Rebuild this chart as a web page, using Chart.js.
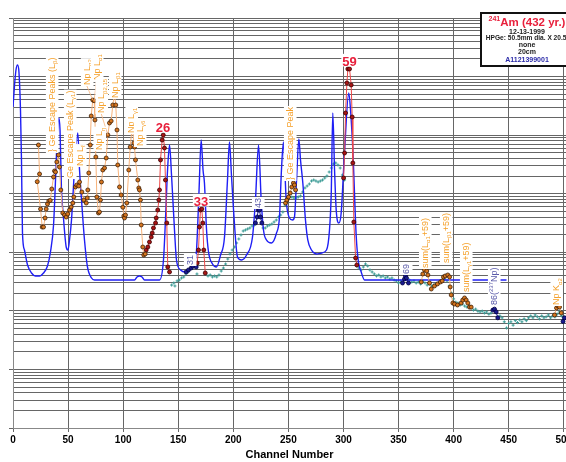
<!DOCTYPE html>
<html>
<head>
<meta charset="utf-8">
<script src="https://cdn.jsdelivr.net/npm/chart.js@4/dist/chart.umd.min.js"></script>
<style>
html, body { margin: 0; padding: 0; background: #fff; }
canvas { display: block; }
</style>
</head>
<body>
<canvas id="spectrum" width="566" height="462"></canvas>
<script>
// Am-241 spectrum, counts per channel on a log axis

// fitted response (blue line)
var fitCh = [0,1.4,2.7,4.1,5.4,6.8,7.7,8.6,10.4,13.2,16.8,20.4,24.1,27.7,31.3,34.0,36.8,38.6,40.4,41.6,
  42.7,44.0,45.4,48.3,49.9,51.3,53.1,55.8,58.8,60.4,62.2,64.9,67.6,71.3,74.0,110.3,112.6,114.8,117.1,119.4,
  133.0,136.6,138.4,140.3,142.1,143.9,146.6,148.4,152.1,156.6,160.2,163.9,166.6,168.9,170.8,172.5,173.8,175.7,177.5,181.1,
  184.7,188.4,192.0,194.7,196.5,198.3,200.2,203.8,207.4,212.0,217.4,220.1,222.9,225.3,227.4,230.1,234.7,239.2,241.9,243.7,
  245.5,248.0,251.0,253.7,255.5,257.4,259.5,261.0,263.1,265.5,267.6,271.0,275.5,280.1,284.6,287.3,288.9,290.3,291.9,293.4,
  295.8,297.9,300.9,304.8,306.4,308.5,311.6,313.6,316.1,319.1,448.0];
var fitCounts = [302500,718000,1295000,1578000,1198000,268700,37660,2134,1094,607,443,394,394,443,583,1012,2924,17150,122400,196200,
  122400,11580,4872,1231,1094,1622,3558,25420,108800,25420,7812,1622,561,364,336,336,379,394,379,336,
  336,738,3558,25420,67880,20880,2402,738,499,461,499,607,1094,11580,82630,25420,15250,2402,1012,631,
  561,899,1824,17150,76390,20880,5272,831,738,899,1824,7812,67880,7812,2402,1622,1442,2134,4002,25420,
  76390,7812,3848,3558,4002,17150,85940,37660,15250,3558,1622,1094,935,972,1094,2402,10290,238800,25420,5272,
  3164,4688,49560,524500,268700,55740,1824,683,461,336,336];

// measured spectrum (teal dots)
var measCh = [144,146,147,149,151,153,155,157,159,167,
  175,177,179,181,183,185,187,189,191,193,
  195,197,199,201,203,205,207,209,211,213,
  215,217,219,227,229,231,233,235,237,239,
  241,243,245,247,249,251,253,255,257,259,
  261,263,265,267,269,271,273,275,277,279,
  281,283,285,287,289,291,293,295,297,299,
  301,312,314,316,318,320,322,324,326,328,
  330,332,334,336,338,340,342,344,346,348,
  350,352,358,360,362,364,366,368,370,372,
  374,376,378,380,382,384,386,388,390,392,
  394,396,398,400,402,404,406,408,410,412,
  414,416,418,420,422,424,426,428,430,432,
  434,442,444,446,448,450,452,454,456,458,
  460,462,464,466,468,470,472,474,476,478,
  480,482,484,486,488,490,492,494,496,498,
  500];
var measCounts = [276,299,266,324,336,364,379,426,461,426,
  443,394,410,379,394,379,410,479,539,631,
  768,935,1094,1231,1442,1687,1975,2310,2402,2500,
  2600,2812,2924,2600,2600,2812,2924,3042,3291,3558,
  4002,4330,4872,6410,8450,8790,8790,8450,8450,8790,
  9140,10700,12530,13550,14660,16490,17150,16490,15860,16490,
  17150,18550,20070,23490,27500,32180,33470,30940,27500,20880,
  17150,583,539,499,561,631,583,499,461,426,
  394,410,379,394,364,379,350,364,336,324,
  299,324,350,336,311,324,299,311,288,324,
  299,276,288,266,276,288,299,324,336,350,
  324,266,202,160,141,136,126,131,121,116,
  121,112,103,107,99,96,99,92,96,88,
  92,82,76,65,51,61,65,57,68,63,
  70,65,73,68,76,82,76,85,79,73,
  82,76,79,85,76,82,79,88,96,82,
  76];

// Np L x-rays and their Ge escape peaks (orange)
var lxCh = [23.1,24.1,22.0,25.0,26.5,27.7,29.1,30.1,31.3,32.5,
  33.8,35.2,36.8,37.7,38.6,39.8,41.3,42.2,43.4,45.2,
  46.8,48.3,49.7,51.3,52.8,54.3,55.2,56.7,57.9,59.7,
  60.4,62.5,64.3,66.5,67.4,67.9,68.8,70.1,71.0,72.4,
  73.7,74.4,75.2,76.1,77.6,78.5,79.4,80.3,81.5,83.1,
  84.6,86.1,87.6,89.1,90.6,92.1,93.3,94.4,95.1,96.7,
  98.2,99.7,100.6,101.2,102.1,103.3,105.1,106.4,107.8,108.8,
  109.7,110.3,111.2,113.3,114.2,114.8,115.7,116.4,117.8,118.7,
  120.0];
var lxCounts = [67880,21710,16050,5480,2700,2700,3848,5480,6670,7510,
  7660,12040,19300,24440,23490,34810,45840,28600,11580,4688,
  4330,4002,4508,5272,5930,6940,8790,13030,14090,13550,
  15860,10700,7812,6940,8450,11580,22580,67880,212300,397600,
  387000,181400,42370,8790,4688,4872,7812,15860,25420,27500,
  40740,100600,161300,174400,326900,503600,326900,122400,30940,13030,
  9510,5870,4160,3848,4330,6940,25420,62720,118900,122400,
  73450,62720,37660,17150,12530,11580,7812,2924,1231,899,
  935];
var geCh = [247.4,248.6,250.1,251.6,253.1,254.6,255.5,256.5];
var geCounts = [6940,7812,8790,10290,13030,15250,14090,11580];
var sumCh = [370.6,372.0,373.6,375.6,376.6,378.1,379.7,382.6,385.3,388.0,
  389.6,390.8,392.4,394.7,396.3,396.9,397.8,399.3,400.8,403.5,
  406.8,408.3,409.9,411.4,412.9,414.4,415.9];
var sumCounts = [311,426,499,479,410,299,236,266,288,311,
  324,379,394,410,379,256,187,136,131,126,
  136,153,166,153,136,116,116];
var kCh = [491.6,493.4,494.8,496.1,497.7];
var kCounts = [85,112,121,116,92];

// gamma lines (red)
var p26Ch = [120.9,122.4,123.9,125.5,126.4,127.5,129.4,130.0,131.4,132.4,133.0,133.9,135.4,136.4,137.5,138.4,139.6,140.5,142.1];
var p26Counts = [1094,1231,1499,1824,2134,2600,3164,3848,5272,7812,11580,37660,82630,100600,60310,17150,3164,561,461];
var p33Ch = [167.2,168.4,169.3,170.2,171.4,172.3,173.2,174.5];
var p33Counts = [656,1094,2704,5272,5480,3164,1094,443];
var p59Ch = [300.1,301.0,301.9,303.1,304.0,305.5,307.0,307.9,308.5,309.4,311.0,312.1];
var p59Counts = [18550,49560,238800,776000,1350000,1350000,718000,204000,33470,3291,799,607];

// weak lines (dark blue)
var p31Ch = [157.2,159.3,161.8,163.2,164.8,166.3];
var p31Counts = [461,499,539,583,631,561];
var p43Ch = [220.1,221.7,222.6,223.8,224.7,225.9];
var p43Counts = [3164,4002,5272,5272,4002,3164];
var p69Ch = [353.6,355.4,356.3,357.2,359.0];
var p69Counts = [299,350,394,364,299];
var p86Ch = [435.6,437.1,438.6,440.1];
var p86Counts = [103,107,96,76];
var pEndCh = [499.3,500.6];
var pEndCounts = [66,76];

var xTicks = [0,50,100,150,200,250,300,350,400,450,500];

// peak labels: text, channel, counts, colour, optional leader target
var notes = [
  ['} Ge Escape Peaks (L_{β})', 34.9, 51560, 'orange'],
  ['Ge Escape Peak (L_{γ1})', 51.3, 18550, 'orange'],
  ['Np L_{ℓ}', 60.4, 29720, 'orange'],
  ['Np L_{α2}', 66.7, 718000, 'orange', 72.4, 397600],
  ['Np L_{α1}', 75.8, 874300, 'orange', 73.7, 387000],
  ['Np L_{β2,15}', 79.9, 238800, 'orange', 86.1, 100600],
  ['Np L_{η}', 78.1, 55740, 'orange'],
  ['Np L_{β1}', 92.1, 430600, 'orange'],
  ['Np L_{γ1}', 107.1, 108800, 'orange'],
  ['Np L_{γ6}', 114.8, 65240, 'orange'],
  ['} Ge Escape Peak', 251.0, 17150, 'orange'],
  ['sum(L_{α1}+59)', 373.6, 539, 'orange'],
  ['sum(L_{β1}+59)', 392.6, 656, 'orange'],
  ['sum(L_{γ1}+59)', 410.8, 210, 'orange'],
  ['Np K_{α2}', 492.9, 126, 'orange'],
  ['31', 160.2, 607, 'blue'],
  ['43', 222.0, 5700, 'blue'],
  ['69', 356.3, 426, 'blue'],
  ['86(^{237}Np)', 436.2, 126, 'blue'],
  ['26', 136.2, 137700, 'red'],
  ['33', 170.7, 7510, 'red'],
  ['59', 305.5, 1845000, 'red']
];

var FONT = '"Liberation Sans", Arial, sans-serif';
var noteColor = { orange: '#f5a02a', blue: '#5858a8', red: '#e8203c' };

function pts(xs, ys) {
  return xs.map(function (x, i) { return { x: x, y: ys[i] }; });
}

function yTickList() {
  var t = [];
  for (var e = 0; e < 7; e++) {
    for (var m = 1; m < 10; m++) t.push(m * Math.pow(10, e));
  }
  t.push(1e7);
  return t;
}

function isDecade(v) {
  var l = Math.log10(v);
  return Math.abs(l - Math.round(l)) < 1e-9;
}

function richParts(s) {
  var out = [], re = /([_^])\{([^}]*)\}/g, last = 0, m;
  while ((m = re.exec(s))) {
    if (m.index > last) out.push({ t: s.slice(last, m.index), k: '' });
    out.push({ t: m[2], k: m[1] });
    last = re.lastIndex;
  }
  if (last < s.length) out.push({ t: s.slice(last), k: '' });
  return out;
}

function drawRich(ctx, text, x, y, o) {
  var parts = richParts(text);
  var fs = o.size, ss = Math.round(fs * 0.72);
  var font = function (sz) { return (o.bold ? 'bold ' : '') + sz + 'px ' + FONT; };
  var w = 0;
  parts.forEach(function (p) {
    ctx.font = font(p.k ? ss : fs);
    p.w = ctx.measureText(p.t).width;
    w += p.w;
  });
  ctx.save();
  ctx.translate(x, y);
  if (o.rotate) ctx.rotate(-Math.PI / 2);
  var cx = o.center ? -w / 2 : 0;
  if (o.bg) {
    ctx.fillStyle = '#fff';
    ctx.fillRect(cx - 1, -fs * o.bg[0], w + 2, fs * (o.bg[0] + o.bg[1]));
  }
  ctx.fillStyle = o.color;
  ctx.textBaseline = 'alphabetic';
  var base = fs * 0.36;
  parts.forEach(function (p) {
    ctx.font = font(p.k ? ss : fs);
    var dy = p.k === '_' ? fs * 0.28 : (p.k === '^' ? -fs * 0.4 : 0);
    ctx.fillText(p.t, cx, base + dy);
    cx += p.w;
  });
  ctx.restore();
}

var notesPlugin = {
  id: 'notes',
  afterDatasetsDraw: function (chart) {
    var ctx = chart.ctx, xs = chart.scales.x, ys = chart.scales.y;
    ctx.save();
    ctx.strokeStyle = '#f7b27a';
    ctx.lineWidth = 0.8;
    notes.forEach(function (n) {
      if (n.length > 4) {
        ctx.beginPath();
        ctx.moveTo(xs.getPixelForValue(n[1]), ys.getPixelForValue(n[2]));
        ctx.lineTo(xs.getPixelForValue(n[4]), ys.getPixelForValue(n[5]));
        ctx.stroke();
      }
    });
    notes.forEach(function (n) {
      var px = xs.getPixelForValue(n[1]), py = ys.getPixelForValue(n[2]);
      if (n[3] === 'red') {
        drawRich(ctx, n[0], px, py, { size: 13, bold: true, color: noteColor.red, center: true, bg: [0.55, 0.42] });
      } else {
        drawRich(ctx, n[0], px, py, { size: 9, color: noteColor[n[3]], rotate: true, bg: [0.62, 0.78] });
      }
    });
    ctx.restore();
  }
};

var boxPlugin = {
  id: 'sourceBox',
  afterDraw: function (chart) {
    var ctx = chart.ctx, cx = 527;
    ctx.save();
    ctx.fillStyle = '#fff';
    ctx.fillRect(480, 12, 90, 54);
    ctx.lineWidth = 2;
    ctx.strokeStyle = '#111';
    ctx.strokeRect(481, 13, 92, 53);
    ctx.textBaseline = 'alphabetic';
    ctx.font = 'bold 7px ' + FONT;
    var wSup = ctx.measureText('241').width;
    ctx.font = 'bold 11.5px ' + FONT;
    var wMain = ctx.measureText('Am (432 yr.)').width;
    var sx = cx - (wSup + wMain) / 2;
    ctx.fillStyle = '#e8203c';
    ctx.font = 'bold 7px ' + FONT;
    ctx.fillText('241', sx, 21);
    ctx.font = 'bold 11.5px ' + FONT;
    ctx.fillText('Am (432 yr.)', sx + wSup, 26);
    ctx.textAlign = 'center';
    ctx.fillStyle = '#222';
    ctx.font = 'bold 7px ' + FONT;
    ctx.fillText('12-13-1999', cx, 34);
    ctx.font = 'bold 6.6px ' + FONT;
    ctx.fillText('HPGe: 50.5mm dia. X 20.5mm', cx + 5, 40);
    ctx.font = 'bold 7px ' + FONT;
    ctx.fillText('none', cx, 47);
    ctx.fillText('20cm', cx, 54);
    ctx.fillStyle = '#2a2aa8';
    ctx.fillText('A1121399001', cx, 62);
    ctx.restore();
  }
};

function lineSet(xs, ys, line, fill, edge) {
  return {
    data: pts(xs, ys),
    borderColor: line,
    borderWidth: 1,
    pointRadius: 2,
    pointHoverRadius: 0,
    pointBackgroundColor: fill,
    pointBorderColor: edge,
    pointBorderWidth: 0.8,
    tension: 0,
    order: 1
  };
}

var orange = ['#f7b27a', '#d7761f', '#3d1e05'];
var red = ['#ee4848', '#a81515', '#3a0000'];
var navy = ['#2020a8', '#1a1a90', '#000040'];

var datasets = [
  lineSet(lxCh, lxCounts, orange[0], orange[1], orange[2]),
  lineSet(geCh, geCounts, orange[0], orange[1], orange[2]),
  lineSet(sumCh, sumCounts, orange[0], orange[1], orange[2]),
  lineSet(kCh, kCounts, orange[0], orange[1], orange[2]),
  lineSet(p26Ch, p26Counts, red[0], red[1], red[2]),
  lineSet(p33Ch, p33Counts, red[0], red[1], red[2]),
  lineSet(p59Ch, p59Counts, red[0], red[1], red[2]),
  lineSet(p31Ch, p31Counts, navy[0], navy[1], navy[2]),
  lineSet(p43Ch, p43Counts, navy[0], navy[1], navy[2]),
  lineSet(p69Ch, p69Counts, navy[0], navy[1], navy[2]),
  lineSet(p86Ch, p86Counts, navy[0], navy[1], navy[2]),
  lineSet(pEndCh, pEndCounts, navy[0], navy[1], navy[2]),
  {
    data: pts(fitCh, fitCounts),
    borderColor: '#1f1ff5',
    borderWidth: 1.4,
    pointRadius: 0,
    pointHoverRadius: 0,
    cubicInterpolationMode: 'monotone',
    order: 2
  },
  {
    data: pts(measCh, measCounts),
    showLine: false,
    pointStyle: 'cross',
    pointRadius: 1.5,
    pointHoverRadius: 0,
    pointBorderWidth: 1,
    pointBorderColor: '#3c9c96',
    order: 3
  }
];

var ctx = document.getElementById('spectrum').getContext('2d');
var chart = new Chart(ctx, {
  type: 'line',
  data: { datasets: datasets },
  options: {
    responsive: false,
    animation: false,
    layout: { autoPadding: false, padding: { top: 18, left: 0, right: 0, bottom: 0 } },
    plugins: { legend: { display: false }, tooltip: { enabled: false } },
    scales: {
      x: {
        type: 'linear',
        min: 0,
        max: 502,
        afterBuildTicks: function (s) { s.ticks = xTicks.map(function (v) { return { value: v }; }); },
        afterFit: function (s) { s.height = 34; s.paddingLeft = 0; s.paddingRight = 0; },
        grid: { color: '#666', lineWidth: 1, tickLength: 4, tickColor: '#666' },
        border: { color: '#888' },
        ticks: { color: '#000', font: { family: FONT, size: 10, weight: 'bold' }, padding: 2, maxRotation: 0, autoSkip: false },
        title: {
          display: true,
          text: 'Channel Number',
          color: '#000',
          font: { family: FONT, size: 11, weight: 'bold' },
          padding: { top: 0, bottom: 0 }
        }
      },
      y: {
        type: 'logarithmic',
        min: 1,
        max: 1e7,
        afterBuildTicks: function (s) { s.ticks = yTickList().map(function (v) { return { value: v }; }); },
        afterFit: function (s) { s.width = 13; },
        ticks: { display: false },
        grid: {
          color: '#666',
          lineWidth: 1,
          tickLength: 4,
          tickColor: function (c) { return c.tick && isDecade(c.tick.value) ? '#666' : 'rgba(0,0,0,0)'; }
        },
        border: { color: '#888' }
      }
    }
  },
  plugins: [notesPlugin, boxPlugin]
});
</script>
</body>
</html>
